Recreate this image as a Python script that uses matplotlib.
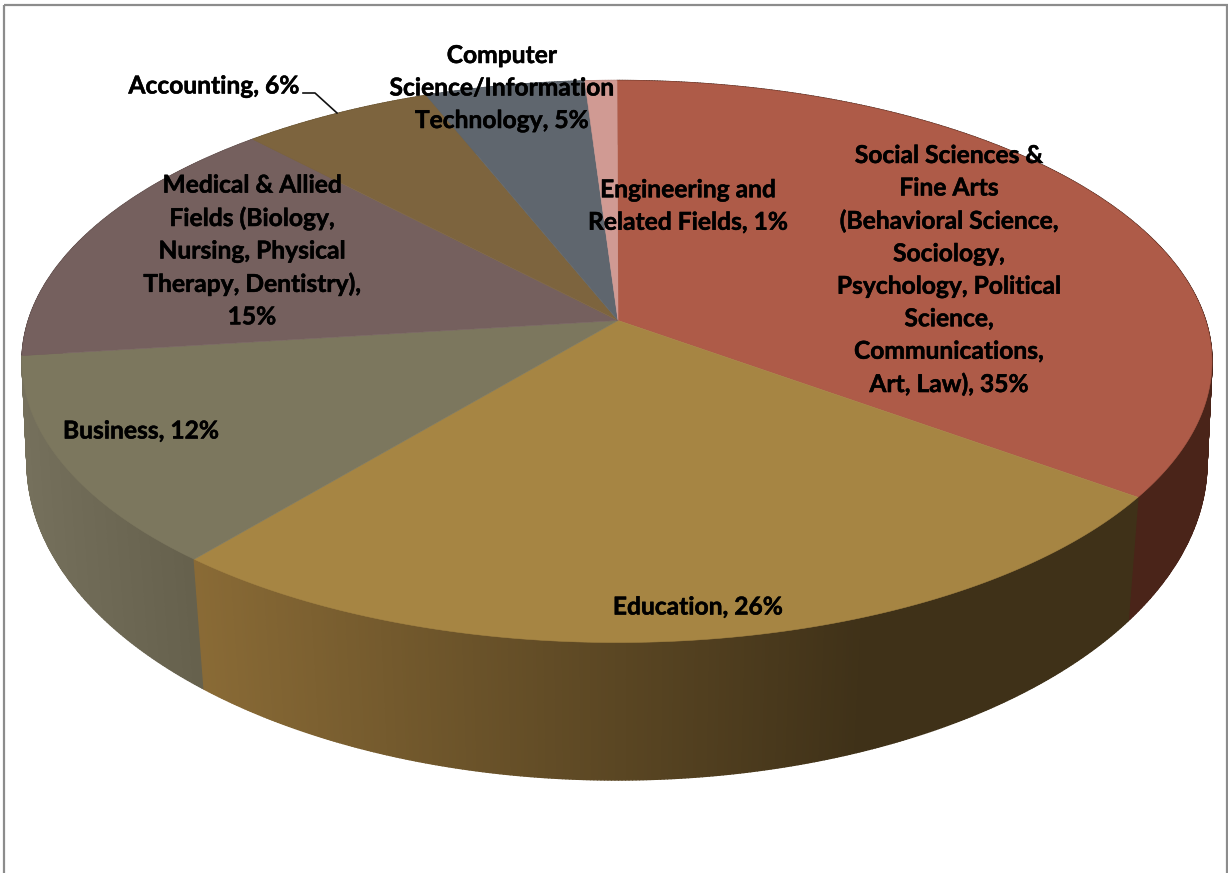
import numpy as np
import matplotlib
matplotlib.use("Agg")
import matplotlib.pyplot as plt
import matplotlib.patheffects as pe
from matplotlib.collections import PolyCollection
from matplotlib.patches import Rectangle
from matplotlib.colors import to_rgb

# ── Data ──────────────────────────────────────────────
categories = [
    "Social Sciences &\nFine Arts\n(Behavioral Science,\nSociology,\nPsychology, Political\nScience,\nCommunications,\nArt, Law)",
    "Education",
    "Business",
    "Medical & Allied\nFields (Biology,\nNursing, Physical\nTherapy, Dentistry),",
    "Accounting",
    "Computer\nScience/Information\nTechnology",
    "Engineering and\nRelated Fields",
]
values = [35, 26, 12, 15, 6, 5, 1]
separators = [", ", ", ", ", ", "\n", ", ", ", ", ", "]

# ── Layout (pixels of the picture) ────────────────────
label_x = [949, 698, 141, 252, 214, 502, 688]
label_y = [270, 607, 431, 251, 86, 88, 206]
top_colors = ["#ae5b48", "#a68543", "#7c775e", "#75605e", "#7d643e", "#5f666e", "#d09a93"]
side_left = ["#4a2419", "#8a6b36", "#75705c", "#5f4e4c", "#65512f", "#4d5359", "#a87d77"]
side_right = ["#4a2419", "#3f3118", "#66614d", "#5f4e4c", "#65512f", "#4d5359", "#a87d77"]
side_x0 = [1130, 200, 28, 22, 258, 430, 587]
side_x1 = [1212, 860, 200, 258, 430, 587, 618]
# back wedges go first so the front wall covers them
side_order = [6, 5, 4, 3, 0, 2, 1]

CX = 617
TOP = dict(cy=361.5, rx=595, ry=281, a=0.146)
BOT = dict(cy=462, rx=590, ry=318, a=0.125)


def rim(theta, e):
    # pie angle (clockwise from 12 o'clock) to a point on a tilted, foreshortened rim
    u, v = np.sin(theta), -np.cos(theta)
    a = e["a"]
    d = 1 - a * v
    return CX + e["rx"] * u * np.sqrt(1 - a * a) / d, e["cy"] + e["ry"] * (v - a) / d


fig = plt.figure(figsize=(12.28, 8.73), dpi=100, facecolor="white")
ax = fig.add_axes([0, 0, 1, 1])
ax.set_xlim(0, 1228)
ax.set_ylim(873, 0)
ax.axis("off")

ax.add_patch(Rectangle((4, 5), 1223, 900, fill=False, edgecolor="#8c8c8c", linewidth=1.6, zorder=0))

edges = np.concatenate([[0], np.cumsum(values)]) / sum(values) * 2 * np.pi

# ── Side wall, one thin strip at a time so it can shade across x ──
for i in side_order:
    th = np.linspace(edges[i], edges[i + 1], max(int(values[i] * 12), 8))
    tx, ty = rim(th, TOP)
    bx, by = rim(th, BOT)
    quads, cols = [], []
    c0, c1 = np.array(to_rgb(side_left[i])), np.array(to_rgb(side_right[i]))
    for j in range(len(th) - 1):
        quads.append([(tx[j], ty[j]), (tx[j + 1], ty[j + 1]), (bx[j + 1], by[j + 1]), (bx[j], by[j])])
        t = np.clip((bx[j] - side_x0[i]) / (side_x1[i] - side_x0[i]), 0, 1)
        cols.append(c0 + (c1 - c0) * t)
    ax.add_collection(PolyCollection(quads, facecolors=cols, edgecolors="face", linewidths=1.0, zorder=1))

# ── Top surface ───────────────────────────────────────
apex = (CX + 1, TOP["cy"] - TOP["ry"] * TOP["a"])
for i in range(len(values)):
    th = np.linspace(edges[i], edges[i + 1], max(int(values[i] * 8), 8))
    x, y = rim(th, TOP)
    ax.fill(np.r_[apex[0], x], np.r_[apex[1], y], color=top_colors[i], linewidth=0.4, zorder=2)

# ── Labels ────────────────────────────────────────────
for i in range(len(values)):
    ax.text(label_x[i], label_y[i], f"{categories[i]}{separators[i]}{values[i]}%",
            family="Lato", fontweight="bold", fontsize=17.7, color="black",
            ha="center", va="center", linespacing=1.5, zorder=4,
            path_effects=[pe.withStroke(linewidth=0.35, foreground="black")])

# leader line for the Accounting label
ax.plot([303, 315, 337], [93, 93, 113], color="#111111", linewidth=1.2, zorder=3)

fig.savefig("out.png", dpi=100)
